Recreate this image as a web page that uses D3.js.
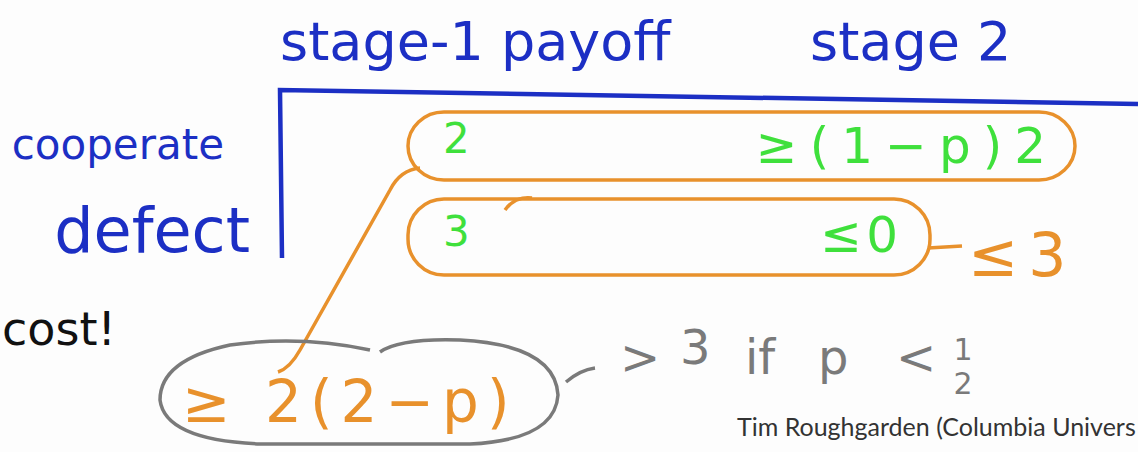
<!DOCTYPE html>
<html>
<head>
<meta charset="utf-8">
<script src="https://cdn.jsdelivr.net/npm/d3@7"></script>
<style>
  body { margin: 0; background: #fdfdfd; }
  svg text { font-family: "DejaVu Sans", sans-serif; }
</style>
</head>
<body>
<div id="slide"></div>
<script>
// table content
var headers = ["stage-1 payoff", "stage 2"];
var rows = ["cooperate", "defect"];
var stage1 = ["2", "3"];
var stage2 = ["\u2265(1\u2212p)2", "\u22640"];
var defectTotal = "\u22643";
var deviation = "\u2265 2(2\u2212p)";
var comparison = [">", "3", "if", "p", "<"];
var fraction = ["1", "2"];
var note = "cost!";
var credit = "Tim Roughgarden (Columbia Univers";

function main() {
    var width = 1138, height = 452;
    var blue = "#1c2fc4", green = "#3fe03c", orange = "#e8912c", grey = "#7a7a7a";

    var svg = d3.select("#slide")
        .append("svg")
        .attr("width", width)
        .attr("height", height);

    svg.append("rect").attr("width", width).attr("height", height).attr("fill", "#fdfdfd");

    // column and row scales
    var x = d3.scaleOrdinal().domain(headers).range([280, 810]);
    var y = d3.scalePoint().domain(rows).range([147, 234]);

    // header labels
    svg.selectAll(".head")
        .data(headers)
        .enter()
        .append("text")
        .attr("x", function (d) { return x(d); })
        .attr("y", 60)
        .attr("fill", blue)
        .style("font-size", "54px")
        .text(function (d) { return d; });

    // table frame
    svg.append("path")
        .attr("d", "M282,258 L280,90 Q600,95 1138,104")
        .attr("fill", "none")
        .attr("stroke", blue)
        .attr("stroke-width", 4.5);

    // row labels
    svg.selectAll(".row")
        .data(rows)
        .enter()
        .append("text")
        .attr("x", function (d, i) { return i ? 250 : 224; })
        .attr("y", function (d, i) { return y(d) + (i ? 18 : 12); })
        .attr("text-anchor", "end")
        .attr("fill", blue)
        .style("font-size", function (d, i) { return i ? "62px" : "42px"; })
        .text(function (d) { return d; });

    // orange loops around each row
    var loopEnd = [1075, 930];
    svg.selectAll(".loop")
        .data(rows)
        .enter()
        .append("rect")
        .attr("x", 408)
        .attr("y", function (d) { return y(d) - 35; })
        .attr("width", function (d, i) { return loopEnd[i] - 408; })
        .attr("height", function (d, i) { return i ? 76 : 68; })
        .attr("rx", 36)
        .attr("fill", "none")
        .attr("stroke", orange)
        .attr("stroke-width", 3.5);

    // stage 1 payoffs
    svg.selectAll(".s1")
        .data(stage1)
        .enter()
        .append("text")
        .attr("x", 443)
        .attr("y", function (d, i) { return y(rows[i]) + (i ? 12 : 6); })
        .attr("fill", green)
        .style("font-size", "42px")
        .text(function (d) { return d; });

    // stage 2 payoffs
    svg.selectAll(".s2")
        .data(stage2)
        .enter()
        .append("text")
        .attr("x", function (d, i) { return i ? 902 : 1058; })
        .attr("y", function (d, i) { return y(rows[i]) + (i ? 18 : 16); })
        .attr("text-anchor", "end")
        .attr("fill", green)
        .style("font-size", "50px")
        .style("letter-spacing", function (d, i) { return i ? "4px" : "12px"; })
        .text(function (d) { return d; });

    // defect total
    svg.append("path").attr("d", "M928,248 L962,246")
        .attr("stroke", orange).attr("stroke-width", 3.5).attr("fill", "none");
    svg.append("text")
        .attr("x", 968).attr("y", 276)
        .attr("fill", orange)
        .style("font-size", "60px")
        .style("letter-spacing", "10px")
        .text(defectTotal);

    // small hook on defect loop
    svg.append("path").attr("d", "M505,210 Q515,196 532,198")
        .attr("stroke", orange).attr("stroke-width", 3.5).attr("fill", "none");

    // connector from cooperate loop down to deviation
    svg.append("path").attr("d", "M420,168 Q400,170 390,190 L300,350 Q290,368 278,372")
        .attr("stroke", orange).attr("stroke-width", 3.5).attr("fill", "none");

    // grey loop around deviation payoff
    svg.append("path")
        .attr("d", "M370,350 Q300,335 230,345 Q160,360 160,400 Q165,440 260,444 L470,444 Q555,440 558,395 Q555,345 460,340 Q400,338 380,352")
        .attr("fill", "none").attr("stroke", grey).attr("stroke-width", 3.5);

    svg.append("text")
        .attr("x", 182).attr("y", 422)
        .attr("fill", orange)
        .style("font-size", "58px")
        .style("letter-spacing", "8px")
        .text(deviation);

    // comparison with the defect payoff
    svg.append("path").attr("d", "M566,382 Q580,370 595,368")
        .attr("stroke", grey).attr("stroke-width", 3.5).attr("fill", "none");
    var cx = [620, 680, 745, 818, 896];
    svg.selectAll(".cmp")
        .data(comparison)
        .enter()
        .append("text")
        .attr("x", function (d, i) { return cx[i]; })
        .attr("y", function (d, i) { return i === 1 ? 364 : 374; })
        .attr("fill", grey)
        .style("font-size", "48px")
        .text(function (d) { return d; });
    svg.selectAll(".frac")
        .data(fraction)
        .enter()
        .append("text")
        .attr("x", 963)
        .attr("y", function (d, i) { return i ? 394 : 360; })
        .attr("text-anchor", "middle")
        .attr("fill", grey)
        .style("font-size", "30px")
        .text(function (d) { return d; });

    svg.append("text")
        .attr("x", 2).attr("y", 345)
        .attr("fill", "#111")
        .style("font-size", "46px")
        .text(note);

    svg.append("text")
        .attr("x", 737).attr("y", 436)
        .attr("fill", "#333")
        .style("font-family", "Lato, 'Open Sans', sans-serif")
        .style("font-size", "25px")
        .text(credit);
}
window.addEventListener('load', main);
</script>
</body>
</html>
